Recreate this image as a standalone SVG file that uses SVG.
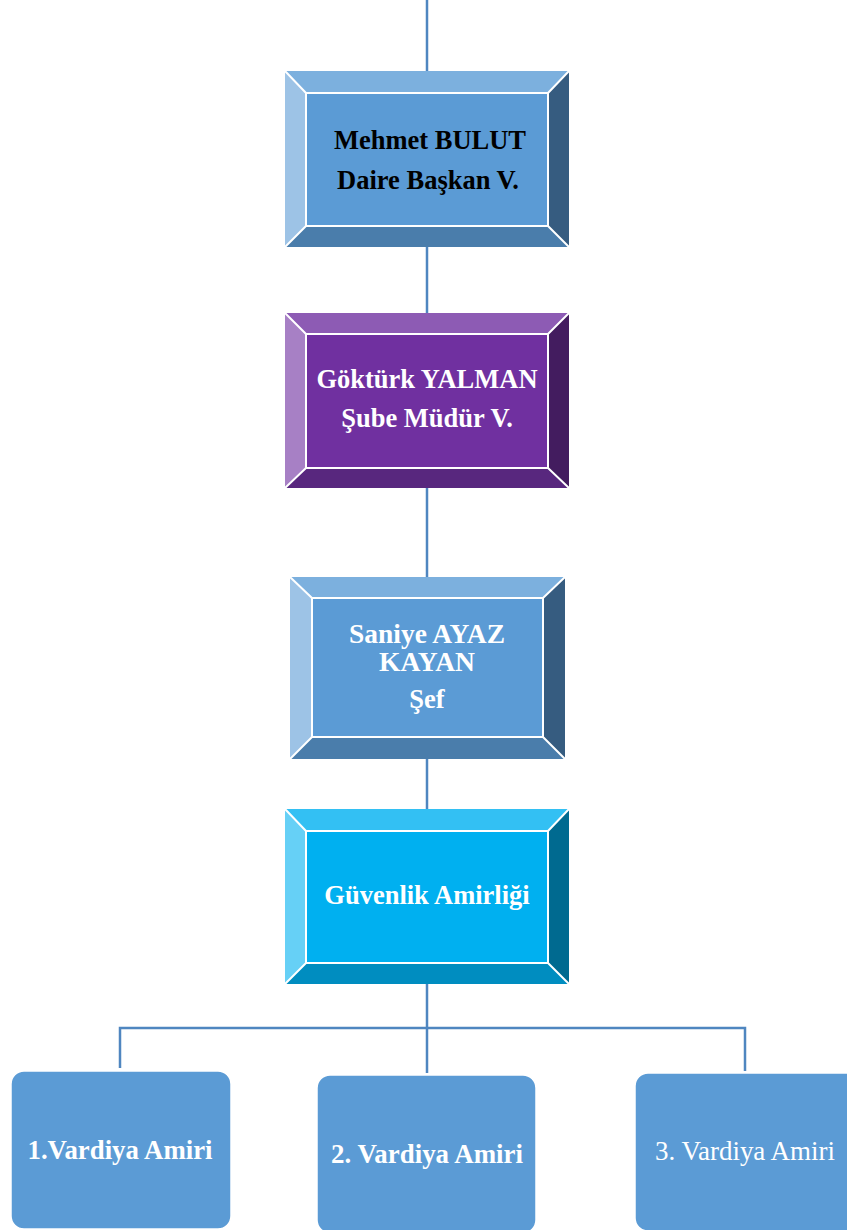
<svg xmlns="http://www.w3.org/2000/svg" width="847" height="1230" viewBox="0 0 847 1230">
<style>
.ln{fill:none;stroke:#4F86C0;stroke-width:2.5}
.sep{fill:none;stroke:#fff;stroke-width:2}
.t{font-family:"Liberation Serif","Times New Roman",serif;font-weight:bold;font-size:26.5px;text-anchor:middle}
.b{font-family:"Liberation Serif","Times New Roman",serif;font-size:27px;text-anchor:middle}
.w{fill:#fff}
.k{fill:#000}
</style>
<rect width="847" height="1230" fill="#fff"/>
<g id="connectors">
<line class="ln" x1="427" y1="0" x2="427" y2="71"/>
<line class="ln" x1="427" y1="247" x2="427" y2="313"/>
<line class="ln" x1="427" y1="488" x2="427" y2="577"/>
<line class="ln" x1="427" y1="759" x2="427" y2="809"/>
<line class="ln" x1="427" y1="984" x2="427" y2="1073"/>
<polyline class="ln" points="120,1068 120,1028 745,1028 745,1071"/>
</g>
<g id="n1">
<polygon points="285,71 569,71 548,93 306,93" fill="#7CB0DE"/>
<polygon points="285,71 306,93 306,226 285,247" fill="#9DC3E6"/>
<polygon points="569,71 569,247 548,226 548,93" fill="#365C80"/>
<polygon points="285,247 306,226 548,226 569,247" fill="#4A7DAB"/>
<rect x="306" y="93" width="242" height="133" fill="#5B9BD5"/>
<path class="sep" d="M285,71 L306,93 M569,71 L548,93 M285,247 L306,226 M569,247 L548,226"/>
<rect class="sep" x="306" y="93" width="242" height="133"/>
<text class="t k" x="430" y="149">Mehmet BULUT</text>
<text class="t k" x="428" y="189">Daire Başkan V.</text>
</g>
<g id="n2">
<polygon points="285,313 569,313 548,334 306,334" fill="#8D5BB4"/>
<polygon points="285,313 306,334 306,468 285,488" fill="#A780C5"/>
<polygon points="569,313 569,488 548,468 548,334" fill="#431C5F"/>
<polygon points="285,488 306,468 548,468 569,488" fill="#58277E"/>
<rect x="306" y="334" width="242" height="134" fill="#7030A0"/>
<path class="sep" d="M285,313 L306,334 M569,313 L548,334 M285,488 L306,468 M569,488 L548,468"/>
<rect class="sep" x="306" y="334" width="242" height="134"/>
<text class="t w" x="427" y="388">Göktürk YALMAN</text>
<text class="t w" x="427" y="427">Şube Müdür V.</text>
</g>
<g id="n3">
<polygon points="290,577 565,577 543,598 312,598" fill="#7CB0DE"/>
<polygon points="290,577 312,598 312,737 290,759" fill="#9DC3E6"/>
<polygon points="565,577 565,759 543,737 543,598" fill="#365C80"/>
<polygon points="290,759 312,737 543,737 565,759" fill="#4A7DAB"/>
<rect x="312" y="598" width="231" height="139" fill="#5B9BD5"/>
<path class="sep" d="M290,577 L312,598 M565,577 L543,598 M290,759 L312,737 M565,759 L543,737"/>
<rect class="sep" x="312" y="598" width="231" height="139"/>
<text class="t w" x="427" y="643" font-size="25" textLength="156" lengthAdjust="spacingAndGlyphs">Saniye AYAZ</text>
<text class="t w" x="427" y="671" font-size="25" textLength="96" lengthAdjust="spacingAndGlyphs">KAYAN</text>
<text class="t w" x="427" y="708">Şef</text>
</g>
<g id="n4">
<polygon points="285,809 569,809 548,831 306,831" fill="#33C0F3"/>
<polygon points="285,809 306,831 306,963 285,984" fill="#66D0F6"/>
<polygon points="569,809 569,984 548,963 548,831" fill="#006A90"/>
<polygon points="285,984 306,963 548,963 569,984" fill="#008DC0"/>
<rect x="306" y="831" width="242" height="132" fill="#00B0F0"/>
<path class="sep" d="M285,809 L306,831 M569,809 L548,831 M285,984 L306,963 M569,984 L548,963"/>
<rect class="sep" x="306" y="831" width="242" height="132"/>
<text class="t w" x="427" y="904">Güvenlik Amirliği</text>
</g>
<g id="v1">
<rect x="11" y="1071" width="220" height="158" rx="13" fill="#5B9BD5" stroke="#fff" stroke-width="1.5"/>
<text class="t w" x="120" y="1159" font-size="27" textLength="185" lengthAdjust="spacingAndGlyphs">1.Vardiya Amiri</text>
</g>
<g id="v2">
<rect x="317" y="1075" width="219" height="158" rx="13" fill="#5B9BD5" stroke="#fff" stroke-width="1.5"/>
<text class="t w" x="427" y="1163" font-size="27" textLength="192" lengthAdjust="spacingAndGlyphs">2. Vardiya Amiri</text>
</g>
<g id="v3">
<rect x="635" y="1073" width="225" height="158" rx="13" fill="#5B9BD5" stroke="#fff" stroke-width="1.5"/>
<text class="b w" x="745" y="1160" textLength="180" lengthAdjust="spacingAndGlyphs">3. Vardiya Amiri</text>
</g>
</svg>
